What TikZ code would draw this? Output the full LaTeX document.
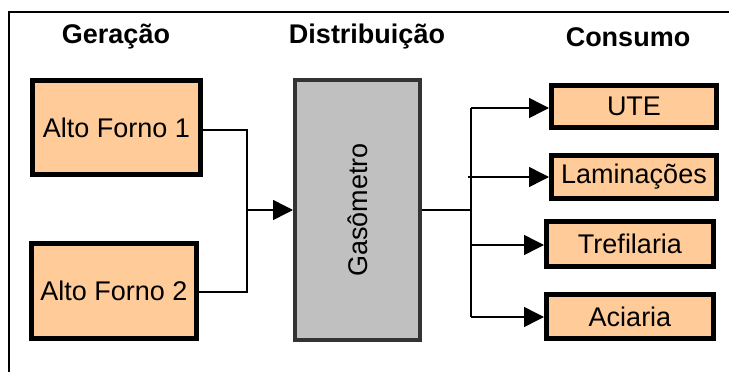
\documentclass[tikz,border=0pt]{standalone}
\usepackage{fontspec}
\setmainfont{Liberation Sans}
\usetikzlibrary{arrows.meta}
\definecolor{boxfill}{HTML}{FFCC99}
\definecolor{gasfill}{HTML}{C0C0C0}
\definecolor{gasline}{HTML}{333333}
\begin{document}
\begin{tikzpicture}[x=1pt,y=-1pt,
  every node/.style={font=\fontsize{27}{31}\selectfont},
  head/.style={font=\fontsize{27}{31}\selectfont\bfseries},
  srcbox/.style={draw=black,line width=5pt,fill=boxfill,inner sep=0pt},
  gasbox/.style={draw=gasline,line width=4pt,fill=gasfill,inner sep=0pt},
  conn/.style={line width=1.5pt},
  arr/.style={line width=1.5pt,-{Triangle[length=20pt,width=20pt]}}]
\useasboundingbox (0,0) rectangle (729,372);
\fill[white] (0,0) rectangle (729,372);
\coordinate (ftl) at (9,12);
\coordinate (ftr) at (729,12);
\coordinate (fbl) at (9,372);
\draw[line width=1.5pt] (ftr) -- (ftl) -- (fbl);

\node[head] (hgen) at (116,37) {Geração};
\node[head] (hdis) at (367,37) {Distribuição};
\node[head] (hcon) at (628,37) {Consumo};

\node[srcbox,minimum width=168pt,minimum height=94pt] (af1) at (116.5,127.5) {Alto Forno 1};
\node[srcbox,minimum width=165pt,minimum height=95pt] (af2) at (114,291) {Alto Forno 2};
\node[gasbox,minimum width=125pt,minimum height=260pt] (gas) at (357.5,210) {};
\node[rotate=90] (gastxt) at (357.5,210) {Gasômetro};

\node[srcbox,minimum width=165pt,minimum height=42pt] (ute) at (634,106.5) {UTE};
\node[srcbox,minimum width=165pt,minimum height=43pt] (lam) at (634,177) {Laminações};
\node[srcbox,minimum width=167pt,minimum height=45pt] (tre) at (630,244) {Trefilaria};
\node[srcbox,minimum width=167pt,minimum height=44pt] (aci) at (630,316.5) {Aciaria};

\coordinate (j1) at (247,130);
\coordinate (j2) at (247,292);
\coordinate (jm) at (247,210);
\draw[conn] (af1.east |- j1) -- (j1) -- (jm);
\draw[conn] (af2.east |- j2) -- (j2) -- (jm);
\draw[arr] (jm) -- (gas.west |- jm);

\coordinate (r0) at (471,210);
\coordinate (rt) at (471,108);
\coordinate (rb) at (471,317);
\coordinate (rl) at (468,177);
\coordinate (rtr) at (471,245);
\draw[conn] (gas.east |- r0) -- (r0);
\draw[conn] (rt) -- (rb);
\draw[arr] (rt) -- (ute.west |- rt);
\draw[arr] (rl) -- (lam.west |- rl);
\draw[arr] (rtr) -- (tre.west |- rtr);
\draw[arr] (rb) -- (aci.west |- rb);
\end{tikzpicture}
\end{document}
